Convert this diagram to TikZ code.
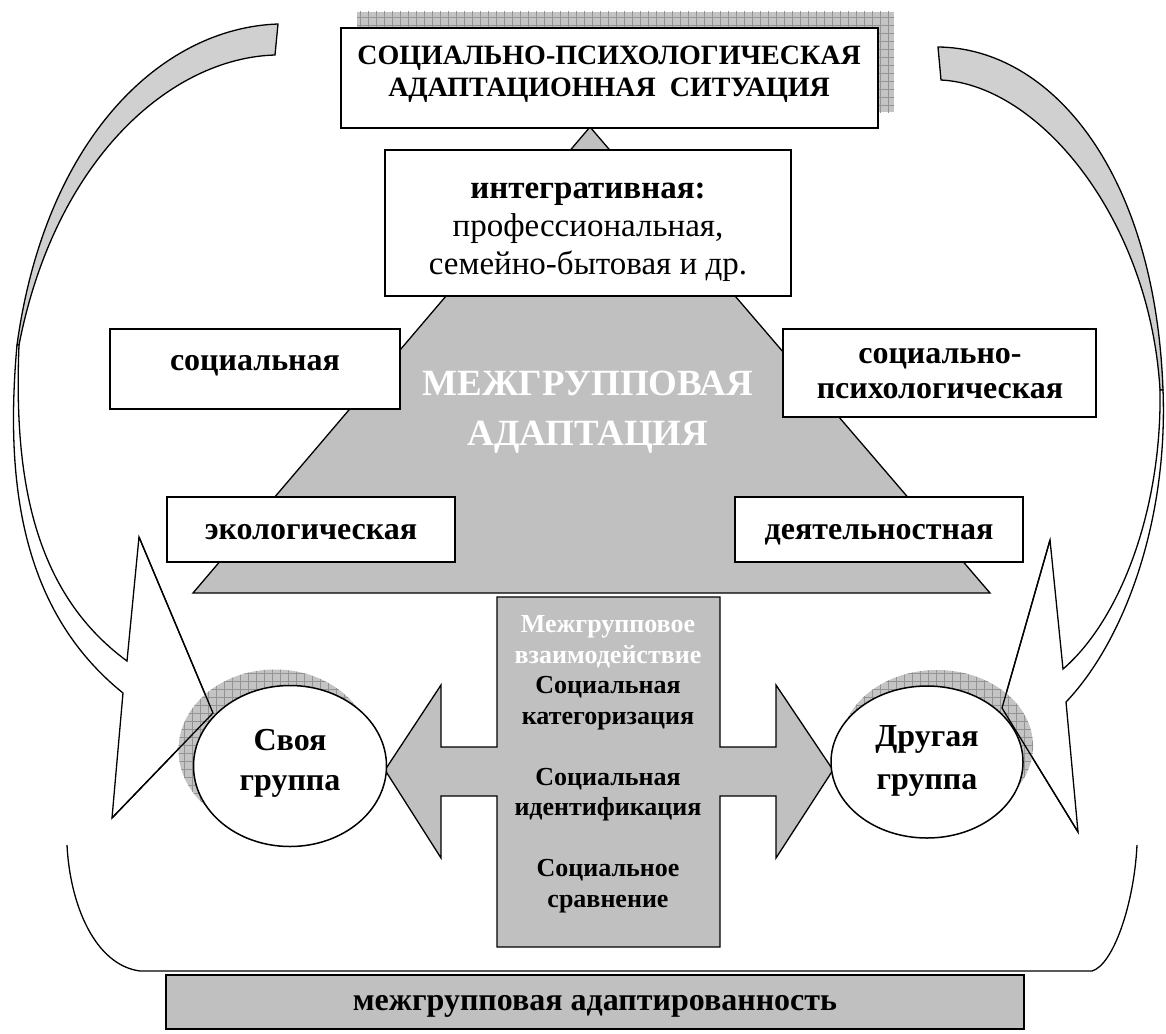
\documentclass[tikz,border=0pt]{standalone}
\usepackage{fontspec}
\setmainfont{Liberation Serif}
\usetikzlibrary{patterns.meta,shapes.geometric}
\definecolor{fillgray}{HTML}{C0C0C0}
\definecolor{backgray}{HTML}{D0D0D0}
\definecolor{shadowgray}{HTML}{C4C4C4}
\begin{document}
\begin{tikzpicture}[x=1pt,y=-1pt,line join=miter,
  every node/.style={inner sep=0pt,outer sep=0pt},
  outline/.style={draw=black,line width=1.3pt},
  box/.style={draw=black,line width=1.6pt,fill=white,rectangle,anchor=north west},
  lbl/.style={font=\bfseries\fontsize{32}{36}\selectfont,align=center},
  shad/.style={fill=shadowgray,postaction={pattern={Hatch[angle=0,distance=8pt,line width=0.5pt]},pattern color=gray!85}},
]
\useasboundingbox[fill=white] (0,0) rectangle (1166,1033);

% curved arrows (back parts)
\draw[outline,fill=backgray] (278,24) .. controls (160,28) and (45,140) .. (17,345) -- (19,345) .. controls (55,160) and (170,58) .. (275,55) -- cycle;
\draw[outline,fill=backgray] (938,47) .. controls (1050,48) and (1155,170) .. (1163,390) -- (1160,390) .. controls (1150,220) and (1040,85) .. (941,80) -- cycle;
% curved arrows (front parts with heads)
\draw[outline,fill=white] (17,345) .. controls (5,480) and (20,610) .. (123,693) -- (112,818) -- (213,713) -- (139,537) -- (127,661) .. controls (30,590) and (14,470) .. (19,345) -- cycle;
\draw[outline,fill=white] (1163,390) .. controls (1168,520) and (1125,640) .. (1066,702) -- (1078,832) -- (1002,708) -- (1050,540) -- (1063,669) .. controls (1120,620) and (1162,510) .. (1160,390) -- cycle;

% triangle
\draw[outline,fill=fillgray] (590,127) -- (193,593) -- (990,593) -- cycle;
\node[font=\bfseries\fontsize{37}{50}\selectfont,align=center,text=white] (adapt) at (588,412) {МЕЖГРУППОВАЯ\\АДАПТАЦИЯ};

% top box with shadow
\fill[shad] (357,12) rectangle (894,112);
\node[box,minimum width=537pt,minimum height=100pt] (sit) at (341,28) {};
\node[font=\bfseries\fontsize{28}{32}\selectfont,align=center] (sittext) at (609,74) {СОЦИАЛЬНО-ПСИХОЛОГИЧЕСКАЯ\\АДАПТАЦИОННАЯ\ \ СИТУАЦИЯ};

% side boxes
\node[box,minimum width=406pt,minimum height=146pt] (integ) at (385,150) {};
\node[font=\fontsize{33}{38}\selectfont,align=center] (integtext) at (588,232) {\textbf{интегративная:}\\профессиональная,\\семейно-бытовая и др.};
\node[box,minimum width=290pt,minimum height=80pt] (soc) at (110,329) {};
\node[lbl] (soctext) at (255,366) {социальная};
\node[box,minimum width=313pt,minimum height=88pt] (socpsy) at (783,329) {};
\node[lbl,font=\bfseries\fontsize{32}{35}\selectfont] (socpsytext) at (940,374) {социально-\\психологическая};
\node[box,minimum width=288pt,minimum height=65pt] (eco) at (167,497) {};
\node[lbl] (ecotext) at (311,532) {экологическая};
\node[box,minimum width=288pt,minimum height=65pt] (act) at (735,497) {};
\node[lbl] (acttext) at (879,535) {деятельностная};

% double arrow
\draw[outline,fill=fillgray] (497,597) -- (720,597) -- (720,747) -- (776,747) -- (776,685) -- (833,770) -- (776,858) -- (776,796) -- (720,796) -- (720,947) -- (497,947) -- (497,796) -- (441,796) -- (441,858) -- (385,770) -- (441,685) -- (441,747) -- (497,747) -- cycle;
\node[font=\bfseries\fontsize{26}{30.5}\selectfont,align=center] (inter) at (608,764) {\textcolor{white}{Межгрупповое}\\\textcolor{white}{взаимодействие}\\Социальная\\категоризация\\[30.5pt]Социальная\\идентификация\\[30.5pt]Социальное\\сравнение};

% group ellipses with shadows
\fill[shad] (275,750) ellipse [x radius=96.5pt,y radius=80.5pt];
\fill[shad] (937,746) ellipse [x radius=96pt,y radius=76pt];
\draw[outline] (112,818) -- (213,713) -- (139,537);
\draw[outline] (1078,832) -- (1002,708) -- (1050,540);
\node[draw=black,line width=1.5pt,fill=white,ellipse,minimum width=193pt,minimum height=161pt] (own) at (290,766) {};
\node[lbl,font=\bfseries\fontsize{32}{40}\selectfont] (owntext) at (290,763) {Своя\\группа};
\node[draw=black,line width=1.5pt,fill=white,ellipse,minimum width=192pt,minimum height=152pt] (other) at (927,762) {};
\node[lbl,font=\bfseries\fontsize{32}{43}\selectfont] (othertext) at (927,761) {Другая\\группа};

% bottom bracket
\draw[line width=1.3pt] (67,845) .. controls (70,905) and (95,965) .. (140,971) -- (1092,971) .. controls (1113,965) and (1134,905) .. (1137,845);

% bottom box
\node[box,fill=fillgray,minimum width=858pt,minimum height=54pt] (result) at (166,975) {};
\node[lbl] (resulttext) at (595,1006) {межгрупповая адаптированность};
\end{tikzpicture}
\end{document}
